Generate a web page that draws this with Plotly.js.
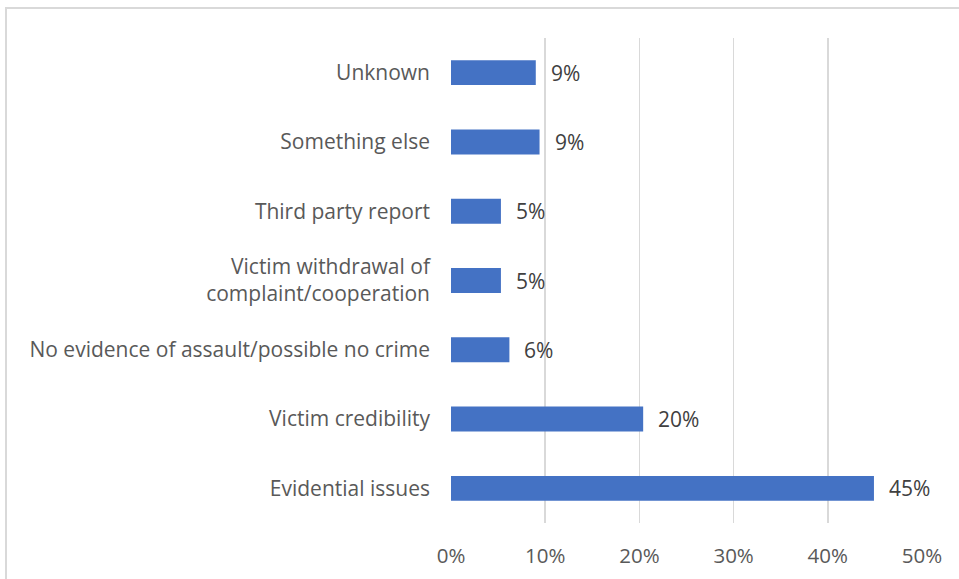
<!DOCTYPE html>
<html>
<head>
<meta charset="utf-8">
<script src="https://cdn.plot.ly/plotly-3.0.1.min.js"></script>
<style>
  html, body { margin: 0; padding: 0; background: #fff; }
  #wrap { position: relative; width: 959px; height: 579px; overflow: hidden; }
  #frame { position: absolute; left: 5px; top: 7px; width: 1000px; height: 700px; border: 2px solid #d9d9d9; box-sizing: border-box; }
  #chart { position: absolute; left: 0; top: 0; width: 959px; height: 579px; }
</style>
</head>
<body>
<div id="wrap">
  <div id="frame"></div>
  <div id="chart"></div>
</div>
<script>
// Data (bottom to top)
const categories = [
  "Evidential issues",
  "Victim credibility",
  "No evidence of assault/possible no crime",
  "Victim withdrawal of<br>complaint/cooperation",
  "Third party report",
  "Something else",
  "Unknown"
];
const values = [0.449, 0.204, 0.062, 0.053, 0.053, 0.094, 0.090];
const labels = ["45%", "20%", "6%", "5%", "5%", "9%", "9%"];
const tickVals = [0, 0.1, 0.2, 0.3, 0.4, 0.5];
const tickText = ["0%", "10%", "20%", "30%", "40%", "50%"];

const trace = {
  type: "bar",
  orientation: "h",
  x: values,
  y: categories,
  marker: { color: "#4472C4" },
  hoverinfo: "none"
};

const annotations = values.map((v, i) => ({
  x: v, y: categories[i], xref: "x", yref: "y",
  text: labels[i], showarrow: false,
  xanchor: "left", xshift: 13,
  font: { family: "Open Sans, sans-serif", size: 21, color: "#404040" }
}));

const layout = {
  width: 959, height: 579,
  paper_bgcolor: "rgba(0,0,0,0)",
  plot_bgcolor: "rgba(0,0,0,0)",
  margin: { l: 451, r: 37, t: 38, b: 56 },
  bargap: 0.64,
  showlegend: false,
  font: { family: "Open Sans, sans-serif", size: 21, color: "#595959" },
  xaxis: {
    range: [0, 0.5],
    tickvals: tickVals,
    ticktext: tickText,
    showgrid: true,
    gridcolor: "#d9d9d9",
    gridwidth: 1.5,
    zeroline: false,
    showline: false,
    ticks: "",
    ticklabelstandoff: 18,
    tickfont: { size: 20.5, color: "#595959" }
  },
  yaxis: {
    type: "category",
    range: [-0.5, 6.5],
    showgrid: false,
    zeroline: false,
    showline: false,
    ticks: "",
    ticklabelstandoff: 20,
    tickfont: { size: 21, color: "#595959" }
  },
  annotations: annotations
};

Plotly.newPlot("chart", [trace], layout, { displayModeBar: false, staticPlot: true });
</script>
</body>
</html>
